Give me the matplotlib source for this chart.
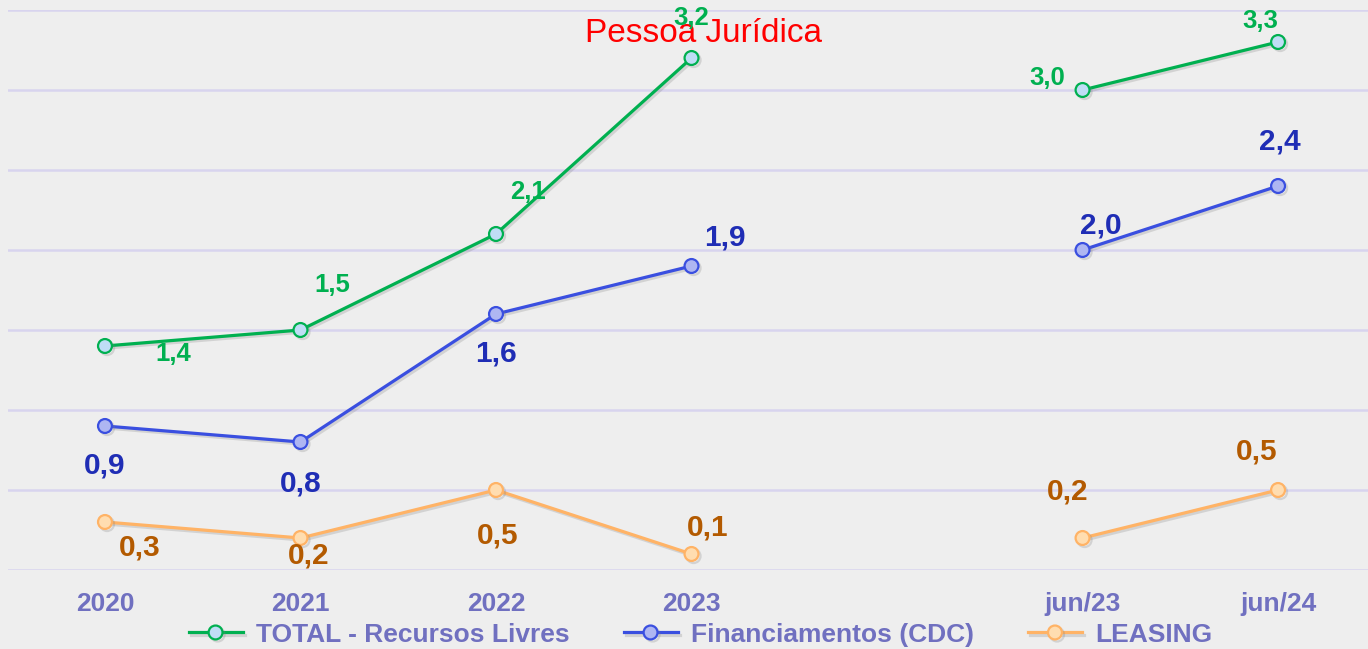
"""Recreate: Pessoa Jurídica line chart."""

import matplotlib
matplotlib.use("Agg")
import matplotlib.pyplot as plt
import matplotlib.patheffects as pe

# Data
categories = ["2020", "2021", "2022", "2023", "jun/23", "jun/24"]
positions = [0, 1, 2, 3, 5, 6]
total = [1.4, 1.5, 2.1, 3.2, 3.0, 3.3]
cdc = [0.9, 0.8, 1.6, 1.9, 2.0, 2.4]
leasing = [0.3, 0.2, 0.5, 0.1, 0.2, 0.5]

# label offsets in pixels (dx, dy) relative to each point
total_off = [(68, -8), (32, 45), (32, 42), (0, 40), (-35, 12), (-18, 21)]
cdc_off = [(0, -40), (0, -42), (0, -40), (33, 29), (18, 25), (2, 44)]
leasing_off = [(35, -25), (8, -18), (2, -45), (16, 26), (-15, 46), (-21, 38)]

bg = "#EEEEEE"
narrow = ["Liberation Sans Narrow", "Liberation Sans", "DejaVu Sans"]
bold = ["Liberation Sans", "DejaVu Sans"]

fig = plt.figure(figsize=(13.68, 6.49), dpi=100, facecolor=bg)
ax = fig.add_axes([8 / 1368, 79 / 649, 1360 / 1368, 560 / 649], facecolor=bg)

shadow = [pe.SimpleLineShadow(offset=(1.5, -1.5), alpha=0.25, shadow_color="gray"), pe.Normal()]

series = [
    (total, "TOTAL - Recursos Livres", "#00B050", "#BFDDF5", "#00B050", total_off, 18.5),
    (cdc, "Financiamentos (CDC)", "#3A4FE0", "#AEB6F2", "#1F2DB5", cdc_off, 21.5),
    (leasing, "LEASING", "#FFB366", "#FFDDB0", "#B35A00", leasing_off, 21.5),
]

handles = []
for vals, name, lc, fc, tc, offs, fs in series:
    for seg in (slice(0, 4), slice(4, 6)):
        line, = ax.plot(positions[seg], vals[seg], color=lc, lw=2.3, marker="o",
                        markersize=10, markerfacecolor=fc, markeredgecolor=lc,
                        markeredgewidth=1.6, label=name, zorder=3,
                        path_effects=shadow)
    handles.append(line)
    for x, v, (dx, dy) in zip(positions, vals, offs):
        ax.annotate(f"{v:.1f}".replace(".", ","), (x, v), xytext=(dx, dy),
                    textcoords="offset pixels", ha="center", va="center",
                    color=tc, fontsize=fs, fontweight="bold", family=bold,
                    zorder=5)

ax.set_xlim(-0.496, 6.46)
ax.set_ylim(0, 3.5)
ax.set_yticks([0, 0.5, 1, 1.5, 2, 2.5, 3, 3.5])
ax.yaxis.grid(True, color="#D8D4EE", lw=1.8)
ax.set_axisbelow(True)
ax.tick_params(axis="y", left=False, labelleft=False)
ax.set_xticks(positions)
ax.set_xticklabels(categories, fontsize=19, fontweight="bold", color="#7070C0",
                   family=narrow)
ax.tick_params(axis="x", length=0, pad=16)
for s in ax.spines.values():
    s.set_visible(False)

ax.text(3.06, 3.35, "Pessoa Jurídica", color="red", fontsize=24,
        family=narrow, ha="center", va="center", zorder=4)

leg = fig.legend(handles=handles, loc="center", bbox_to_anchor=(0.512, 0.022),
                 ncol=3, frameon=False, handlelength=2.05, columnspacing=2.05,
                 handletextpad=0.5,
                 prop={"family": narrow, "size": 19, "weight": "bold"})
for t in leg.get_texts():
    t.set_color("#7070C0")

fig.savefig("out.png", dpi=100, facecolor=bg)
